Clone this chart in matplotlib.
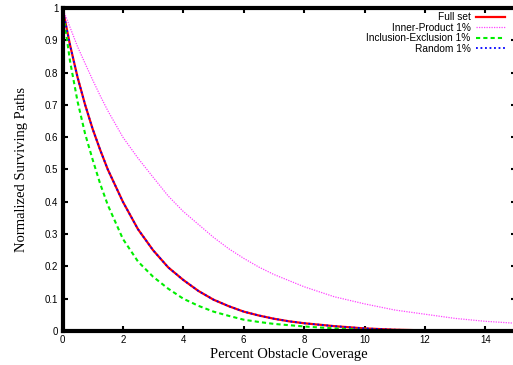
import matplotlib
matplotlib.use('Agg')
import matplotlib.pyplot as plt

# percent obstacle coverage
coverage = [0, 0.25, 0.5, 0.75, 1, 1.25, 1.5, 2, 2.5, 3, 3.5, 4, 4.5, 5, 5.5, 6,
            6.5, 7, 7.5, 8, 9, 10, 11, 12, 13, 14, 15]

fullSet = [1.0, 0.885, 0.785, 0.70, 0.625, 0.56, 0.50, 0.40, 0.315, 0.25, 0.197, 0.158,
           0.124, 0.097, 0.077, 0.060, 0.048, 0.038, 0.030, 0.024, 0.015, 0.008,
           0.004, 0.002, 0.001, 0.0005, 0.0003]
innerProduct = [1.0, 0.94, 0.88, 0.828, 0.777, 0.728, 0.682, 0.60, 0.535, 0.476, 0.418, 0.37,
                0.33, 0.29, 0.255, 0.225, 0.198, 0.175, 0.156, 0.137, 0.106, 0.084,
                0.065, 0.052, 0.039, 0.030, 0.024]
inclusionExclusion = [1.0, 0.835, 0.71, 0.61, 0.53, 0.455, 0.39, 0.285, 0.215, 0.168, 0.131,
                      0.10, 0.078, 0.06, 0.047, 0.035, 0.028, 0.022, 0.018, 0.014, 0.008,
                      0.004, 0.002, 0.001, 0.0006, 0.0004, 0.0003]
random1 = [1.0, 0.885, 0.785, 0.70, 0.625, 0.56, 0.50, 0.40, 0.315, 0.25, 0.197, 0.158,
           0.124, 0.097, 0.077, 0.060, 0.048, 0.038, 0.030, 0.024, 0.015, 0.008,
           0.004, 0.002, 0.001, 0.0005, 0.0003]

xTicks = [0, 2, 4, 6, 8, 10, 12, 14]
yTicks = [0, 0.1, 0.2, 0.3, 0.4, 0.5, 0.6, 0.7, 0.8, 0.9, 1]
yTickLabels = ["0", "0.1", "0.2", "0.3", "0.4", "0.5", "0.6", "0.7", "0.8", "0.9", "1"]

sans = ['Liberation Sans', 'DejaVu Sans']
serif = ['Liberation Serif', 'DejaVu Serif']

fig = plt.figure(figsize=(5.13, 3.65), dpi=100)
ax = fig.add_axes([62.5/513, 34/365, (515.5-62.5)/513, 323/365])

ax.plot(coverage, fullSet, color='#ff0000', lw=1.6, label='Full set')
ax.plot(coverage, innerProduct, color='#ff44ff', lw=0.9, ls=(0, (1, 1)), label='Inner-Product 1%')
ax.plot(coverage, inclusionExclusion, color='#00ee00', lw=1.5, ls=(0, (2, 1.5)), label='Inclusion-Exclusion 1%')
ax.plot(coverage, random1, color='#0000ff', lw=1.3, ls=(0, (1, 1.5)), label='Random 1%')

ax.set_xlim(0, 15)
ax.set_ylim(0, 1)
ax.set_xticks(xTicks)
ax.set_xticklabels([str(t) for t in xTicks], family=sans, fontsize=7)
ax.set_yticks(yTicks)
ax.set_yticklabels(yTickLabels, family=sans, fontsize=7)
ax.tick_params(direction='in', length=3.5, width=1.5, top=True, right=True, pad=3)

for s in ax.spines.values():
    s.set_linewidth(3)

ax.set_xlabel('Percent Obstacle Coverage', family=serif, fontsize=10.5, labelpad=2)
ax.set_ylabel('Normalized Surviving Paths', family=serif, fontsize=10.5, labelpad=12)

leg = ax.legend(loc='upper right', markerfirst=False, frameon=False,
                prop={'family': sans, 'size': 7.3}, handlelength=2.8,
                labelspacing=0.05, handletextpad=0.55, borderaxespad=0.0,
                bbox_to_anchor=(0.985, 1.0))

plt.savefig('out.png', dpi=100)
